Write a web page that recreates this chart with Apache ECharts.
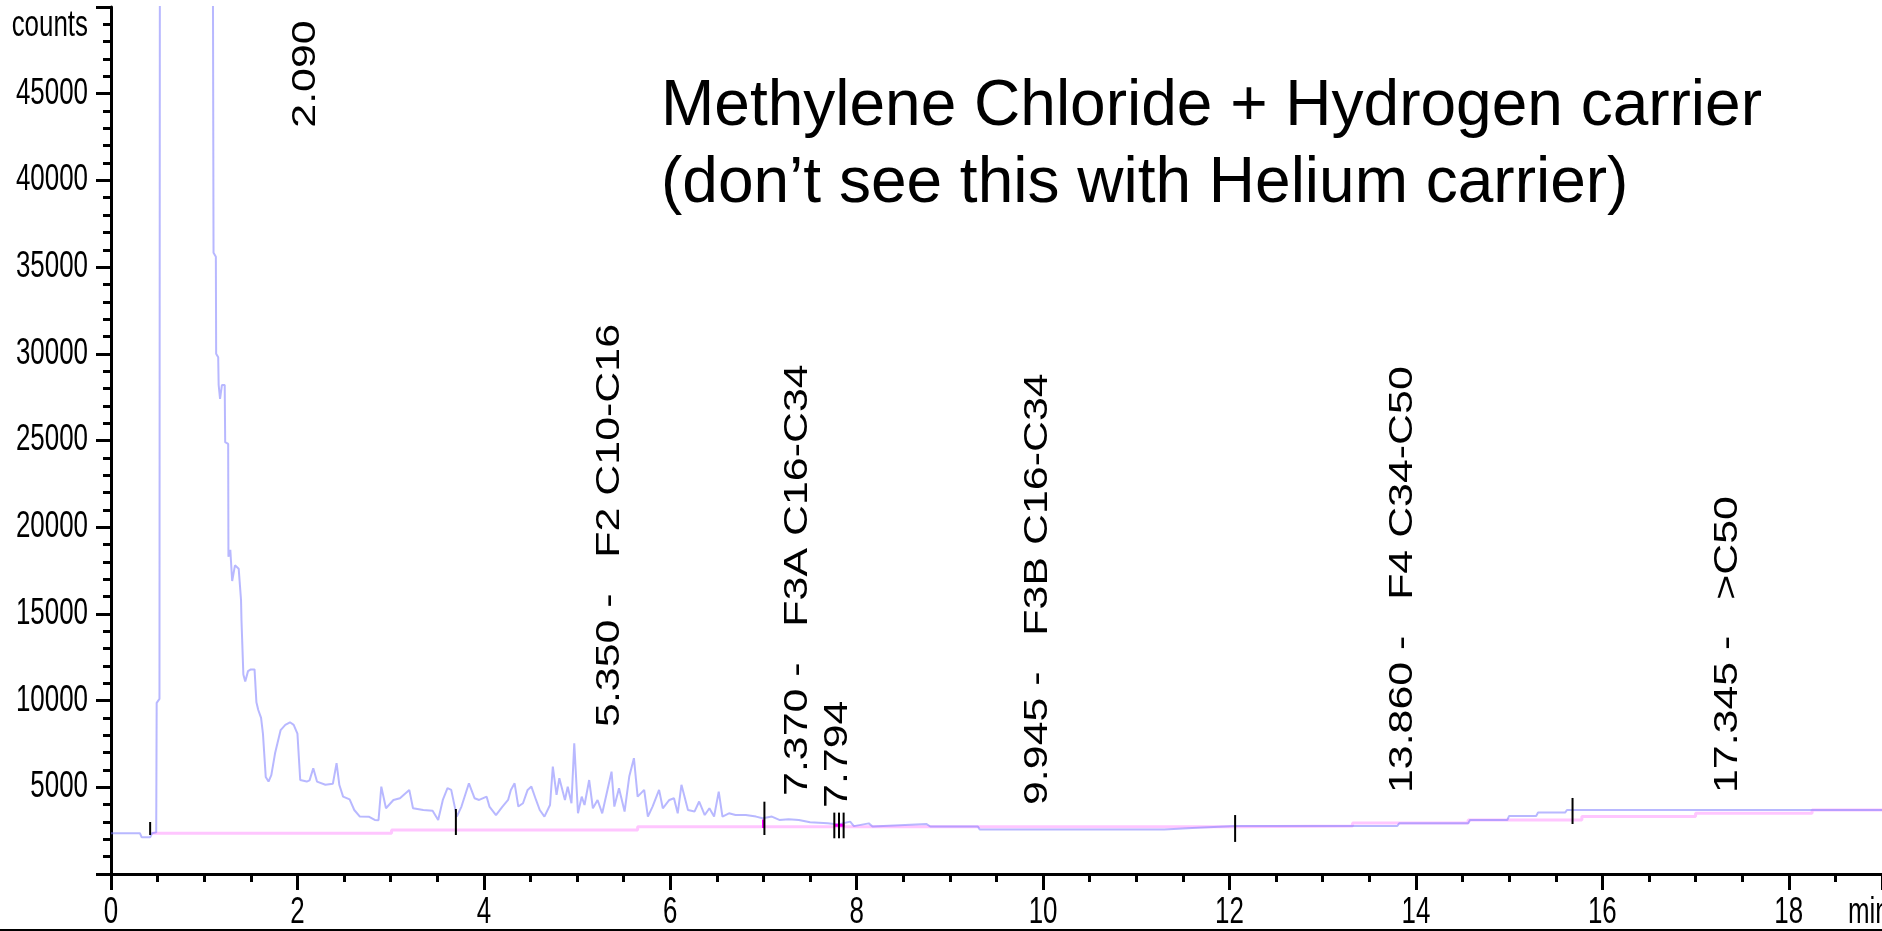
<!DOCTYPE html>
<html>
<head>
<meta charset="utf-8">
<title>Chromatogram</title>
<script src="https://cdn.jsdelivr.net/npm/echarts@6/dist/echarts.min.js"></script>
<style>
  html, body { margin: 0; padding: 0; background: #fff; }
  #chart { width: 1882px; height: 931px; }
</style>
</head>
<body>
<div id="chart"></div>
<script>
// Retention time (min) and detector response (counts) of the chromatogram trace
const signalTime = [
  0.00, 0.31, 0.33, 0.42, 0.44, 0.485, 0.49, 0.52, 0.525, 1.09, 1.10, 1.125, 1.128, 1.15, 1.155, 1.17, 1.19, 1.22,
  1.225, 1.257, 1.26, 1.28, 1.30, 1.33, 1.37, 1.395, 1.40, 1.418, 1.42, 1.44, 1.47, 1.50, 1.54, 1.56, 1.58, 1.61,
  1.63, 1.66, 1.69, 1.72, 1.76, 1.82, 1.87, 1.92, 1.96, 2.00, 2.03, 2.10, 2.13, 2.17, 2.21, 2.30, 2.38, 2.42, 2.45,
  2.49, 2.56, 2.61, 2.67, 2.77, 2.83, 2.87, 2.90, 2.95, 3.03, 3.10, 3.20, 3.24, 3.35, 3.45, 3.51, 3.56, 3.61, 3.65,
  3.71, 3.76, 3.84, 3.90, 3.95, 4.03, 4.06, 4.13, 4.20, 4.26, 4.29, 4.33, 4.37, 4.42, 4.47, 4.51, 4.56, 4.60, 4.65,
  4.71, 4.74, 4.78, 4.81, 4.87, 4.90, 4.94, 4.97, 5.01, 5.05, 5.08, 5.13, 5.17, 5.22, 5.27, 5.37, 5.40, 5.45, 5.51,
  5.56, 5.61, 5.65, 5.72, 5.76, 5.81, 5.88, 5.92, 5.99, 6.04, 6.08, 6.12, 6.19, 6.26, 6.31, 6.37, 6.42, 6.47, 6.52,
  6.56, 6.63, 6.70, 6.81, 6.92, 6.99, 7.09, 7.17, 7.27, 7.38, 7.50, 7.69, 7.80, 7.93, 7.97, 8.13, 8.17, 8.75, 8.79,
  9.30, 9.32, 11.30, 11.60, 12.06, 13.80, 13.82, 14.56, 14.58, 14.98, 15.00, 15.29, 15.31, 15.60, 15.62, 19.00
];
const signalCounts = [
  2350, 2350, 2115, 2115, 2350, 2400, 9870, 10100, 60000, 60000, 35830, 35600, 30000, 29800, 28200, 27400, 28200, 28200,
  24900, 24800, 18300, 18700, 16900, 17800, 17600, 15800, 14600, 14500, 11500, 11100, 11700, 11800, 11800, 9900, 9460, 9000,
  8100, 5600, 5330, 5700, 6960, 8300, 8600, 8750, 8600, 8100, 5420, 5330, 5400, 6100, 5330, 5150, 5200, 6390, 5130,
  4460, 4300, 3690, 3310, 3300, 3120, 3100, 5040, 3790, 4270, 4370, 4850, 3790, 3690, 3650, 3120, 4270, 4950, 4850,
  3310, 3890, 5230, 4370, 4270, 4460, 3890, 3400, 3890, 4270, 4850, 5230, 3890, 4080, 4850, 5040, 4270, 3690, 3310,
  3980, 6190, 4560, 5520, 4270, 5040, 4080, 7540, 3500, 4460, 3980, 5420, 3790, 4270, 3500, 5900, 3890, 4950, 3600,
  5620, 6680, 4460, 4850, 3310, 3890, 4850, 3790, 4270, 4370, 3500, 5140, 3690, 3600, 4180, 3400, 3790, 3310, 4750,
  3310, 3500, 3400, 3400, 3310, 3210, 3310, 3120, 3160, 3120, 2980, 2920, 2850, 3020, 2760, 2920, 2740, 2880, 2740,
  2740, 2560, 2560, 2650, 2770, 2770, 2920, 2920, 3115, 3115, 3350, 3350, 3540, 3540, 3690, 3690
];

// Integration baseline drawn under the trace
const baselineTime   = [0.44, 3.01, 3.01, 5.65, 5.65, 12.06, 12.06, 13.32, 13.32, 14.56, 14.56, 15.78, 15.78, 17.00, 17.00, 18.25, 18.25, 19.00];
const baselineCounts = [2350, 2350, 2540, 2540, 2730, 2730,  2770,  2770,  2940,  2940,  3115,  3115,  3310,  3310,  3500,  3500,  3690,  3690];

// Peak-window boundary highlights
const boundaryTime   = [7.00, 7.00, null, 7.76, 7.87];
const boundaryCounts = [3150, 2650, null, 2810, 2810];

// Integration event markers: time, lower and upper count of each tick
const eventTime  = [0.42, 3.70, 7.01, 7.76, 7.81, 7.86, 12.06, 15.68];
const eventLow   = [2250, 2250, 2250, 2060, 2060, 2060, 1850, 2885];
const eventHigh  = [3000, 3750, 4170, 3540, 3540, 3540, 3400, 4385];

// Retention-time window annotations
const windowText   = ['2.090', '5.350 -   F2 C10-C16', '7.370 -   F3A C16-C34', '7.794', '9.945 -   F3B C16-C34', '13.860 -   F4 C34-C50', '17.345 -   >C50'];
const windowTime   = [2.090, 5.350, 7.370, 7.794, 9.945, 13.860, 17.345];
const windowCounts = [43040, 8480, 4500, 3810, 3980, 4670, 4670];

// Axis ticks and titles
const xTickValues = [0, 2, 4, 6, 8, 10, 12, 14, 16, 18];
const yTickValues = [5000, 10000, 15000, 20000, 25000, 30000, 35000, 40000, 45000];
const xAxisTitle = 'min';
const yAxisTitle = 'counts';

const X_MIN = 0, X_MAX = 19, Y_MIN = 0, Y_MAX = 50000;

const textFont = "'Liberation Sans', Arial, sans-serif";
// The instrument software prints its scale in a tall, narrow face
const axisFont = '36px ' + textFont;
const axisSqueeze = 0.72;

const pair = (xs, ys) => xs.map((x, i) => (x === null ? [null, null] : [x, ys[i]]));

function axisText(x, y, text, align) {
  return {
    type: 'text',
    x: x,
    y: y,
    scaleX: axisSqueeze,
    style: {
      text: text,
      font: axisFont,
      fill: '#000',
      align: align,
      verticalAlign: 'middle',
      textAlign: align,
      textVerticalAlign: 'middle'
    }
  };
}

const chart = echarts.init(document.getElementById('chart'), null, { renderer: 'canvas' });

const tickStyle = { color: '#000', width: 3 };

const option = {
  backgroundColor: '#ffffff',
  animation: false,
  title: {
    text: 'Methylene Chloride + Hydrogen carrier\n(don\u2019t see this with Helium carrier)',
    left: 656,
    top: 64,
    textStyle: { fontFamily: textFont, fontSize: 64, fontWeight: 'normal', color: '#000', lineHeight: 77 }
  },
  grid: { left: 111, right: 0, top: 7, bottom: 57, containLabel: false, outerBoundsMode: 'none' },
  xAxis: {
    type: 'value',
    min: X_MIN,
    max: X_MAX,
    interval: 2,
    axisLine: { show: true, onZero: false, lineStyle: tickStyle },
    axisTick: { show: true, inside: false, length: 16, lineStyle: tickStyle },
    minorTick: { show: true, splitNumber: 4, length: 8, lineStyle: tickStyle },
    splitLine: { show: false },
    minorSplitLine: { show: false },
    axisLabel: { show: false }
  },
  yAxis: {
    type: 'value',
    min: Y_MIN,
    max: Y_MAX,
    interval: 5000,
    axisLine: { show: true, onZero: false, lineStyle: tickStyle },
    axisTick: { show: true, inside: false, length: 15, lineStyle: tickStyle },
    minorTick: { show: true, splitNumber: 5, length: 8, lineStyle: tickStyle },
    splitLine: { show: false },
    minorSplitLine: { show: false },
    axisLabel: { show: false }
  },
  series: [
    {
      name: 'baseline',
      type: 'line',
      data: pair(baselineTime, baselineCounts),
      showSymbol: false,
      symbol: 'none',
      lineStyle: { color: '#ffc6ff', width: 3 },
      z: 2
    },
    {
      name: 'signal',
      type: 'line',
      data: pair(signalTime, signalCounts),
      showSymbol: false,
      symbol: 'none',
      lineStyle: { color: 'rgba(125,125,255,0.55)', width: 2 },
      clip: true,
      z: 3
    },
    {
      name: 'window boundary',
      type: 'line',
      data: pair(boundaryTime, boundaryCounts),
      connectNulls: false,
      showSymbol: false,
      symbol: 'none',
      lineStyle: { color: '#ff00ff', width: 3 },
      z: 4
    },
    {
      name: 'events',
      type: 'custom',
      data: eventTime.map((t, i) => [t, eventLow[i], eventHigh[i]]),
      renderItem: (params, api) => {
        const lo = api.coord([api.value(0), api.value(1)]);
        const hi = api.coord([api.value(0), api.value(2)]);
        return {
          type: 'line',
          shape: { x1: lo[0], y1: lo[1], x2: hi[0], y2: hi[1] },
          style: { stroke: '#000', lineWidth: 2 }
        };
      },
      z: 5
    },
    {
      name: 'windows',
      type: 'custom',
      data: windowTime.map((t, i) => [t, windowCounts[i], i]),
      renderItem: (params, api) => {
        const p = api.coord([api.value(0), api.value(1)]);
        return {
          type: 'text',
          x: p[0],
          y: p[1],
          rotation: Math.PI / 2,
          scaleX: 1.3,
          style: {
            text: windowText[api.value(2)],
            font: '33px ' + textFont,
            fill: '#000',
            align: 'left',
            verticalAlign: 'middle',
            textAlign: 'left',
            textVerticalAlign: 'middle'
          }
        };
      },
      z: 6
    },
    {
      // time scale labels and unit, placed under the axis line
      name: 'x labels',
      type: 'custom',
      data: xTickValues.map((v, i) => [v, i]),
      renderItem: (params, api) => {
        const p = api.coord([api.value(0), Y_MIN]);
        const children = [axisText(p[0], p[1] + 39, String(xTickValues[api.value(1)]), 'center')];
        if (params.dataIndex === xTickValues.length - 1) {
          const end = api.coord([X_MAX, Y_MIN]);
          children.push(axisText(end[0] - 34, end[1] + 39, xAxisTitle, 'left'));
        }
        return { type: 'group', children: children };
      },
      z: 6
    },
    {
      // count scale labels and unit, placed left of the axis line
      name: 'y labels',
      type: 'custom',
      data: yTickValues.map((v, i) => [X_MIN, v, i]),
      renderItem: (params, api) => {
        const p = api.coord([X_MIN, api.value(1)]);
        const children = [axisText(p[0] - 23, p[1], String(yTickValues[api.value(2)]), 'right')];
        if (params.dataIndex === yTickValues.length - 1) {
          const top = api.coord([X_MIN, Y_MAX]);
          children.push(axisText(top[0] - 23, top[1] + 19, yAxisTitle, 'right'));
        }
        return { type: 'group', children: children };
      },
      z: 6
    }
  ],
  graphic: [
    {
      type: 'line',
      shape: { x1: 0, y1: 930, x2: 1882, y2: 930 },
      style: { stroke: '#000', lineWidth: 2 },
      silent: true
    }
  ]
};

chart.setOption(option);
</script>
</body>
</html>
